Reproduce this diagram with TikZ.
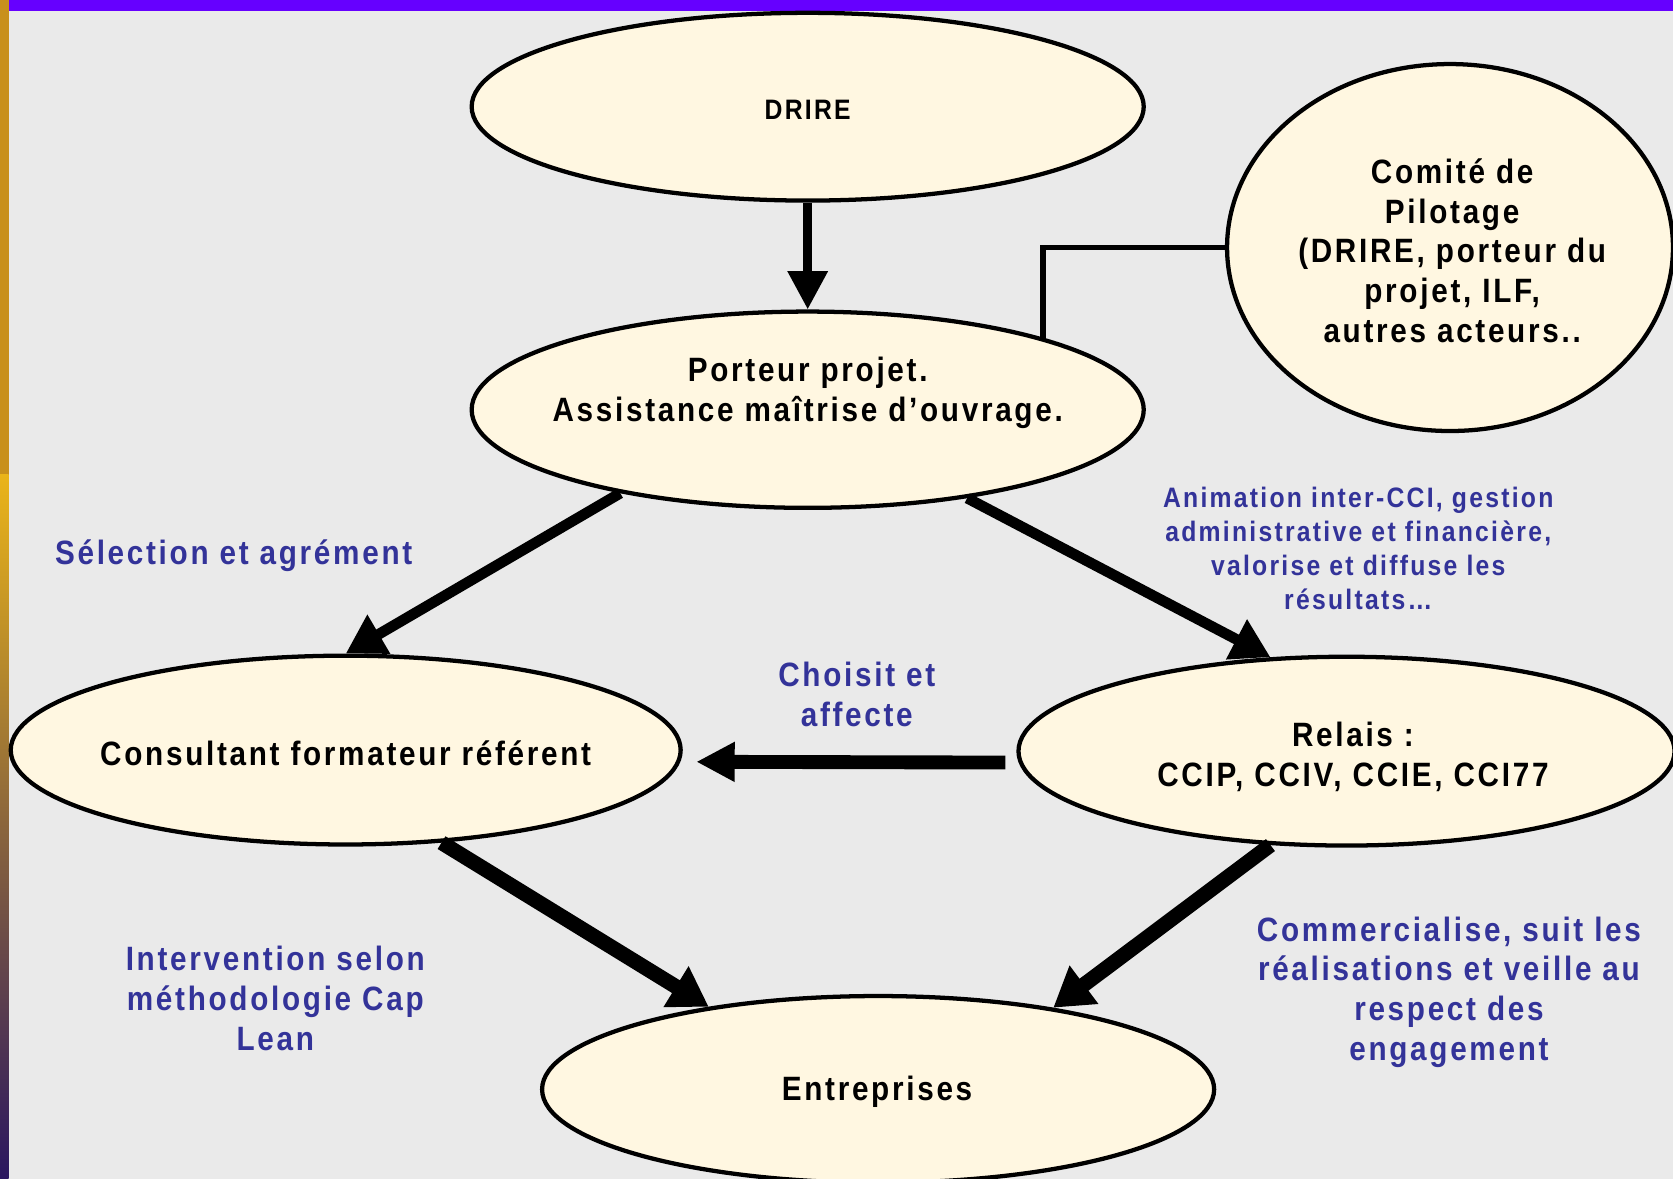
\documentclass[tikz,border=0pt]{standalone}
\usepackage{fontspec}
\setmainfont{Liberation Sans}[FakeStretch=0.88,LetterSpace=8]
\usetikzlibrary{arrows.meta,shapes.geometric}
\definecolor{bgray}{HTML}{EAEAEA}
\definecolor{cream}{HTML}{FFF7E1}
\definecolor{navy}{HTML}{333399}
\definecolor{topbar}{HTML}{6600FF}
\definecolor{gold}{HTML}{C8901C}
\definecolor{goldlight}{HTML}{EAB419}
\definecolor{deeppurple}{HTML}{2A1660}
\begin{document}
\begin{tikzpicture}[x=0.02cm,y=-0.02cm,
  bubble/.style={ellipse,draw,fill=cream,line width=0.08cm,inner sep=0pt},
  txt/.style={font=\fontsize{18}{21.3}\selectfont\bfseries,align=center,inner sep=0pt},
  lbl/.style={txt,text=navy},
  arr/.style 2 args={line width=#1,-{Triangle[width=#2,length=0.72cm]}}]
  \useasboundingbox (0,0) rectangle (1568,1105);
  \clip (0,0) rectangle (1568,1105);
  % background, side strip and top bar
  \fill[bgray] (0,0) rectangle (1568,1105);
  \fill[gold] (0,0) rectangle (8,445);
  \shade[top color=goldlight,bottom color=deeppurple] (0,445) rectangle (8,1105);
  \fill[topbar] (8,0) rectangle (1568,10);
  % ellipses
  \node[bubble,minimum width=12.6cm,minimum height=3.52cm] (drire) at (757,100) {};
  \node[txt,font=\fontsize{15}{18}\selectfont\bfseries] (drire-txt) at (757,103) {DRIRE};
  \node[bubble,minimum width=8.36cm,minimum height=6.88cm] (comite) at (1359,232) {};
  \node[txt] (comite-txt) at (1361,235) {Comité de\\Pilotage\\(DRIRE, porteur du\\projet, ILF,\\autres acteurs..};
  \node[bubble,minimum width=12.6cm,minimum height=3.68cm] (porteur) at (757,384) {};
  \node[txt] (porteur-txt) at (757,368) {Porteur projet.\\Assistance maîtrise d’ouvrage.};
  \node[bubble,minimum width=12.56cm,minimum height=3.54cm] (consult) at (324,703) {};
  \node[txt] (consult-txt) at (324,706) {Consultant formateur référent};
  \node[bubble,minimum width=12.3cm,minimum height=3.54cm] (relais) at (1262,704) {};
  \node[txt] (relais-txt) at (1268,709) {Relais :\\CCIP, CCIV, CCIE, CCI77};
  \node[bubble,minimum width=12.6cm,minimum height=3.5cm] (entre) at (823,1021) {};
  \node[txt] (entre-txt) at (822,1023) {Entreprises};
  % labels
  \node[lbl] (selection) at (219,521) {Sélection et agrément};
  \node[lbl,font=\fontsize{15}{18}\selectfont\bfseries] (animation) at (1273,514) {Animation inter-CCI, gestion\\administrative et financière,\\valorise et diffuse les\\résultats…};
  \node[lbl] (choisit) at (803,651) {Choisit et\\affecte};
  \node[lbl] (intervention) at (258,936) {Intervention selon\\méthodologie Cap\\Lean};
  \node[lbl] (commerce) at (1358,930) {Commercialise, suit les\\réalisations et veille au\\respect des\\engagement};
  % connectors
  \draw[line width=0.1cm] (comite.west) -| (porteur.17);
  \draw[arr={0.16cm}{0.72cm}] (drire.south) -- (porteur.north);
  \draw[arr={0.2cm}{0.8cm}] (porteur.204) -- (consult.north);
  \draw[arr={0.2cm}{0.8cm}] (porteur.-29) -- (relais.129);
  \draw[arr={0.26cm}{0.7cm},shorten <=0.25cm,shorten >=0.3cm] (relais.182) -- (consult.358);
  \draw[arr={0.28cm}{0.85cm}] (consult.-44) -- (entre.154);
  \draw[arr={0.28cm}{0.85cm}] (relais.231) -- (entre.25);
\end{tikzpicture}
\end{document}
